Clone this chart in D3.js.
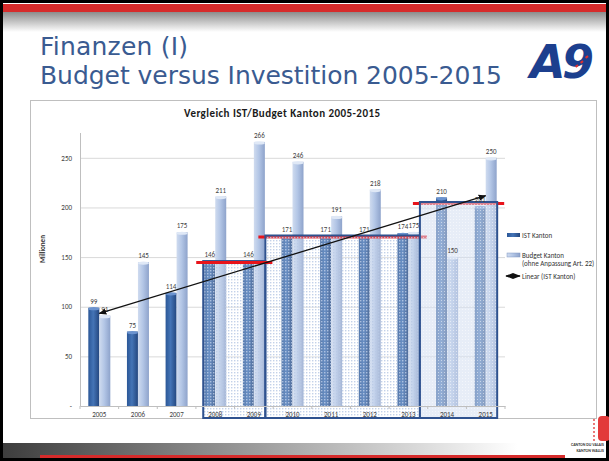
<!DOCTYPE html>
<html>
<head>
<meta charset="utf-8">
<script src="https://cdn.jsdelivr.net/npm/d3@7"></script>
<style>
  body { margin: 0; background: #fff; }
  svg { display: block; }
</style>
</head>
<body>
<div id="graphic"></div>
<script>
const years = ["2005", "2006", "2007", "2008", "2009", "2010", "2011", "2012", "2013", "2014", "2015"];
const istValues = [99, 75, 114, 146, 146, 171, 171, 171, 174, 210, 201];
const budgetValues = [91, 145, 175, 211, 266, 246, 191, 218, 175, 150, 250];
const yTicks = [0, 50, 100, 150, 200, 250];
const periodStarts = ["2008", "2010", "2014"];
const periodEnds = ["2009", "2013", "2015"];
const legendLabels = ["IST Kanton", "Budget Kanton", "(ohne Anpassung Art. 22)", "Linear (IST Kanton)"];

const W = 609, H = 461;
const chartFont = "Carlito, 'Liberation Sans Narrow', 'Liberation Sans', sans-serif";

const svg = d3.select("#graphic")
    .append("svg")
    .attr("width", W)
    .attr("height", H);

const defs = svg.append("defs");

// gradients
function hGrad(id, stops) {
    const g = defs.append("linearGradient").attr("id", id)
        .attr("x1", "0%").attr("x2", "100%").attr("y1", "0%").attr("y2", "0%");
    stops.forEach(s => g.append("stop").attr("offset", s[0]).attr("stop-color", s[1]));
}
hGrad("istGrad", [["0%", "#2b5797"], ["45%", "#4474b6"], ["100%", "#24477f"]]);
hGrad("budGrad", [["0%", "#cfdbef"], ["45%", "#b3c6e6"], ["100%", "#8ea3cb"]]);

const topGrad = defs.append("linearGradient").attr("id", "topGrad")
    .attr("x1", "0%").attr("x2", "0%").attr("y1", "0%").attr("y2", "100%");
topGrad.append("stop").attr("offset", "0%").attr("stop-color", "#8c8c8c");
topGrad.append("stop").attr("offset", "100%").attr("stop-color", "#ffffff");

const botGrad = defs.append("linearGradient").attr("id", "botGrad")
    .attr("x1", "0%").attr("x2", "100%").attr("y1", "0%").attr("y2", "0%");
botGrad.append("stop").attr("offset", "0%").attr("stop-color", "#3c3c3c");
botGrad.append("stop").attr("offset", "85%").attr("stop-color", "#ffffff");

// dotted pattern for boxes
const dots = defs.append("pattern").attr("id", "dots")
    .attr("width", 3).attr("height", 3).attr("patternUnits", "userSpaceOnUse");
dots.append("rect").attr("width", 3).attr("height", 3).attr("fill", "#ffffff").attr("opacity", 0.2);
dots.append("rect").attr("width", 1.4).attr("height", 1.4).attr("fill", "#b9c9e5").attr("opacity", 0.85);

const hatch = defs.append("pattern").attr("id", "hatch")
    .attr("width", 3).attr("height", 3).attr("patternUnits", "userSpaceOnUse");
hatch.append("rect").attr("width", 3).attr("height", 3).attr("fill", "#d3def0").attr("opacity", 0.55);
hatch.append("rect").attr("width", 1).attr("height", 1).attr("fill", "#ffffff").attr("opacity", 0.5);

defs.append("marker").attr("id", "arrowEnd")
    .attr("viewBox", "0 0 10 10").attr("refX", 9).attr("refY", 5)
    .attr("markerWidth", 6).attr("markerHeight", 6).attr("orient", "auto-start-reverse")
    .append("path").attr("d", "M0,1 L10,5 L0,9 Z").attr("fill", "#111");

// ---- slide frame ----
svg.append("rect").attr("x", 0).attr("y", 4).attr("width", W).attr("height", 8).attr("fill", "#d62b2b");
svg.append("rect").attr("x", 0).attr("y", 12).attr("width", W).attr("height", 20).attr("fill", "url(#topGrad)");
svg.append("rect").attr("x", 0).attr("y", 443).attr("width", W).attr("height", 18).attr("fill", "url(#botGrad)");
svg.append("rect").attr("x", 40).attr("y", 455).attr("width", 525).attr("height", 6).attr("fill", "#d62b2b");
svg.append("rect").attr("x", 1.5).attr("y", 1.5).attr("width", W - 3).attr("height", H - 3)
    .attr("fill", "none").attr("stroke", "#000").attr("stroke-width", 3);

// slide title
const titleColor = "#3a5b91";
svg.append("text").attr("x", 40).attr("y", 55)
    .attr("font-family", "'DejaVu Sans', Verdana, sans-serif").attr("font-size", 25)
    .attr("fill", titleColor).attr("textLength", 148).text("Finanzen (I)");
svg.append("text").attr("x", 40).attr("y", 84)
    .attr("font-family", "'DejaVu Sans', Verdana, sans-serif").attr("font-size", 25)
    .attr("fill", titleColor).attr("textLength", 462).text("Budget versus Investition 2005-2015");

// A9 logo
svg.append("text").attr("x", 530).attr("y", 78)
    .attr("font-family", "'DejaVu Sans', sans-serif").attr("font-weight", "bold")
    .attr("font-style", "italic").attr("font-size", 46).attr("fill", "#1c3f8e")
    .attr("textLength", 64).text("A9");
[[575, 66], [580, 62], [585, 57]].forEach(p => {
    svg.append("rect").attr("x", p[0]).attr("y", p[1]).attr("width", 3).attr("height", 2)
        .attr("fill", "#e03030").attr("transform", `rotate(-35,${p[0]},${p[1]})`);
});

// Wallis logo
svg.append("rect").attr("x", 598).attr("y", 416).attr("width", 12).attr("height", 25).attr("rx", 4).attr("fill", "#e23a3a");
for (let i = 0; i < 6; i++) {
    svg.append("circle").attr("cx", 594).attr("cy", 420 + i * 4).attr("r", 0.9).attr("fill", "#e23a3a");
}
svg.append("text").attr("x", 604).attr("y", 446).attr("text-anchor", "end")
    .attr("font-family", chartFont).attr("font-weight", "bold").attr("font-size", 4).attr("fill", "#333")
    .text("CANTON DU VALAIS");
svg.append("text").attr("x", 604).attr("y", 452).attr("text-anchor", "end")
    .attr("font-family", chartFont).attr("font-weight", "bold").attr("font-size", 4).attr("fill", "#333")
    .text("KANTON WALLIS");

// ---- chart area ----
svg.append("rect").attr("x", 30.5).attr("y", 100.5).attr("width", 566).attr("height", 318)
    .attr("fill", "#fff").attr("stroke", "#bfbfbf").attr("stroke-width", 1);

svg.append("text").attr("x", 282).attr("y", 117).attr("text-anchor", "middle")
    .attr("font-family", chartFont).attr("font-weight", "bold").attr("font-size", 11)
    .attr("fill", "#1a1a1a").attr("textLength", 196).text("Vergleich IST/Budget Kanton 2005-2015");

const x = d3.scaleBand().domain(years).range([80, 505]);
const y = d3.scaleLinear().domain([0, 275]).range([406, 133]);
const bw = x.bandwidth();
const barW = 11;
const cx = d => x(d) + bw / 2;

// gridlines + y ticks
const yAxis = svg.append("g")
    .attr("transform", "translate(80,0)")
    .call(d3.axisLeft(y).tickValues(yTicks).tickSize(-425).tickPadding(8)
        .tickFormat(d => d === 0 ? "-" : d));
yAxis.select(".domain").remove();
yAxis.selectAll(".tick line").attr("stroke", "#d9d9d9");
yAxis.selectAll(".tick text").attr("font-family", chartFont).attr("font-size", 7).attr("fill", "#404040");

svg.append("line").attr("x1", 80.5).attr("x2", 80.5).attr("y1", 133).attr("y2", 406)
    .attr("stroke", "#bfbfbf");

svg.append("text").attr("transform", "translate(45,249) rotate(-90)")
    .attr("text-anchor", "middle").attr("font-family", chartFont).attr("font-weight", "bold")
    .attr("font-size", 7).attr("fill", "#333").text("Millionen");

// bars
const data = years.map((yr, i) => ({ year: yr, ist: istValues[i], budget: budgetValues[i] }));
const series = [
    { key: "ist", fill: "url(#istGrad)", cap: "#6b93cf", dx: -barW },
    { key: "budget", fill: "url(#budGrad)", cap: "#dfe8f6", dx: 0 }
];

const barsG = svg.append("g");
series.forEach(s => {
    const g = barsG.append("g");
    g.selectAll("rect")
        .data(data)
        .join("rect")
        .attr("x", d => cx(d.year) + s.dx)
        .attr("y", d => y(d[s.key]))
        .attr("width", barW)
        .attr("height", d => y(0) - y(d[s.key]))
        .attr("fill", s.fill);
    g.selectAll("ellipse")
        .data(data)
        .join("ellipse")
        .attr("cx", d => cx(d.year) + s.dx + barW / 2)
        .attr("cy", d => y(d[s.key]) + 1)
        .attr("rx", barW / 2).attr("ry", 1.6)
        .attr("fill", s.cap);
});

// periods (boxes)
const idx = yr => years.indexOf(yr);
const periods = periodStarts.map((st, i) => {
    const vals = istValues.slice(idx(st), idx(periodEnds[i]) + 1);
    return { start: st, end: periodEnds[i], level: d3.mean(vals) };
});
periods.forEach((p, i) => {
    p.x0 = i === 0 ? cx(p.start) - barW - 1 : periods[i - 1].x1;
    p.x1 = cx(p.end) + barW + 0.5;
});

// red level lines under the boxes (periods 2 and 3)
const redLine = (p) => svg.append("line")
    .attr("x1", p.x0 - 7).attr("x2", p.x1 + 7)
    .attr("y1", y(p.level) + 1.5).attr("y2", y(p.level) + 1.5)
    .attr("stroke", "#e8141b").attr("stroke-width", 3);
periods.slice(1).forEach(redLine);

svg.append("g").selectAll("rect")
    .data(periods)
    .join("rect")
    .attr("x", d => d.x0).attr("y", d => y(d.level))
    .attr("width", d => d.x1 - d.x0).attr("height", d => 418 - y(d.level))
    .attr("fill", (d, i) => i === 2 ? "url(#hatch)" : "url(#dots)")
    .attr("stroke", "#2f528f").attr("stroke-width", 2);

redLine(periods[0]);

// x axis on top of the boxes
const xAxis = svg.append("g")
    .attr("transform", "translate(0,406)")
    .call(d3.axisBottom(x).tickSize(0).tickPadding(6));
xAxis.select(".domain").attr("stroke", "#bfbfbf");
xAxis.selectAll(".tick text").attr("font-family", chartFont).attr("font-size", 7).attr("fill", "#404040");
svg.append("g").selectAll("line")
    .data(years.concat(["end"]))
    .join("line")
    .attr("x1", (d, i) => 80 + i * bw).attr("x2", (d, i) => 80 + i * bw)
    .attr("y1", 406).attr("y2", 409).attr("stroke", "#bfbfbf");

// value labels
series.forEach(s => {
    svg.append("g").selectAll("text")
        .data(data)
        .join("text")
        .attr("x", d => cx(d.year) + s.dx + barW / 2)
        .attr("y", d => y(d[s.key]) - 4)
        .attr("text-anchor", "middle")
        .attr("font-family", chartFont).attr("font-size", 7).attr("fill", "#404040")
        .text(d => d[s.key]);
});

// linear trend of IST
const xi = d3.range(years.length);
const mx = d3.mean(xi), my = d3.mean(istValues);
const slope = d3.sum(xi, i => (i - mx) * (istValues[i] - my)) / d3.sum(xi, i => (i - mx) ** 2);
const icpt = my - slope * mx;
svg.append("line")
    .attr("x1", cx(years[0])).attr("y1", y(icpt))
    .attr("x2", cx(years[years.length - 1])).attr("y2", y(icpt + slope * (years.length - 1)))
    .attr("stroke", "#111").attr("stroke-width", 1.3)
    .attr("marker-start", "url(#arrowEnd)").attr("marker-end", "url(#arrowEnd)");

// legend
const lg = svg.append("g");
lg.append("rect").attr("x", 507).attr("y", 233).attr("width", 13).attr("height", 4).attr("fill", "url(#istGrad)");
lg.append("rect").attr("x", 507).attr("y", 253).attr("width", 13).attr("height", 4)
    .attr("fill", "url(#budGrad)").attr("stroke", "#7f96c2").attr("stroke-width", 0.5);
lg.append("line").attr("x1", 506).attr("x2", 520).attr("y1", 276).attr("y2", 276)
    .attr("stroke", "#111").attr("stroke-width", 1.3)
    .attr("marker-start", "url(#arrowEnd)").attr("marker-end", "url(#arrowEnd)");
const legendY = [237.5, 257.5, 266, 278.5];
lg.selectAll("text")
    .data(legendLabels)
    .join("text")
    .attr("x", 522).attr("y", (d, i) => legendY[i])
    .attr("font-family", chartFont).attr("font-size", 7).attr("fill", "#333")
    .text(d => d);
</script>
</body>
</html>
